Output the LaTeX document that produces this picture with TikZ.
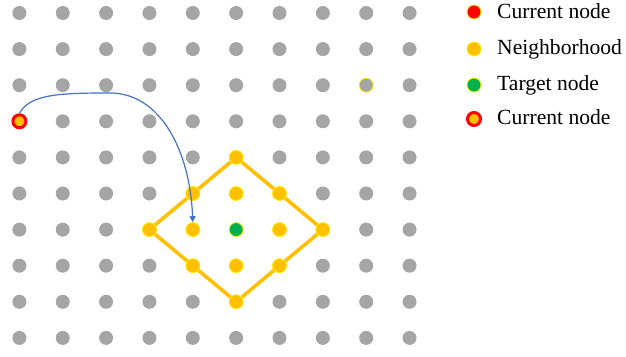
\documentclass[tikz,border=0pt]{standalone}
\usepackage{fontspec}
\setmainfont{Liberation Serif}
\usetikzlibrary{arrows.meta}
\definecolor{dotgray}{HTML}{A5A5A5}
\definecolor{gold}{HTML}{FFC000}
\definecolor{halo}{HTML}{FFEE00}
\definecolor{tgreen}{HTML}{00B050}
\definecolor{cred}{HTML}{FF0000}
\definecolor{arrblue}{HTML}{4472C4}
\tikzset{
  dot/.style={circle,inner sep=0pt,minimum size=14pt,fill=dotgray},
  nbdot/.style={circle,inner sep=0pt,minimum size=14pt,fill=gold,draw=halo,line width=0.8pt},
  tgdot/.style={circle,inner sep=0pt,minimum size=14pt,fill=tgreen,draw=halo,line width=0.8pt},
  reddot/.style={circle,inner sep=0pt,minimum size=14pt,fill=cred,draw=halo,line width=0.8pt},
  curdot/.style={circle,inner sep=0pt,minimum size=13pt,fill=gold,draw=cred,line width=3pt},
  halodot/.style={circle,inner sep=0pt,minimum size=14pt,fill=dotgray,draw=halo,line width=0.8pt},
  diam/.style={draw=gold,line width=3.6pt,line join=round},
  legtext/.style={anchor=base west,inner sep=0pt,font=\fontsize{21.6}{24}\selectfont},
  jump/.style={draw=arrblue,line width=1.2pt,-{Triangle[length=6pt,width=6pt]}}
}
\begin{document}
\begin{tikzpicture}[x=1pt,y=-1pt]
\useasboundingbox (0,0) rectangle (626,356);
% grid coordinates
\foreach \i in {0,...,9}{
  \foreach \j in {0,...,9}{
    \coordinate (p-\i-\j) at ({19.4+43.35*\i},{13+36.1*\j});
  }
}
% diamond
\draw[diam] (p-5-4) -- (p-3-6) -- (p-5-8) -- (p-7-6) -- cycle;
% gray dots
\foreach \i in {0,...,9}{
  \foreach \j in {0,...,9}{
    \pgfmathtruncatemacro{\d}{abs(\i-5)+abs(\j-6)}
    \pgfmathtruncatemacro{\skip}{(\d<=2) || (\i==0 && \j==3) || (\i==8 && \j==2)}
    \ifnum\skip=0
      \node[dot] (n-\i-\j) at (p-\i-\j) {};
    \fi
  }
}
% neighborhood
\foreach \i/\j in {5/4,4/5,5/5,6/5,3/6,4/6,6/6,7/6,4/7,5/7,6/7,5/8}{
  \node[nbdot] (n-\i-\j) at (p-\i-\j) {};
}
\node[tgdot] (target) at (p-5-6) {};
\node[halodot] (n-8-2) at (p-8-2) {};
\node[curdot] (cur) at (p-0-3) {};
% arrow
\draw[jump] (cur.north) .. controls (30,94) and (60,93) .. (110,93) .. controls (160,93) and (190,150) .. (n-4-6.north);
% legend
\node[reddot] (l1) at (474,12) {};
\node[nbdot] (l2) at (474,49) {};
\node[tgdot] (l3) at (474,85) {};
\node[curdot] (l4) at (474,119) {};
\node[legtext] (t1) at (497,18.5) {Current node};
\node[legtext] (t2) at (497,54.5) {Neighborhood};
\node[legtext] (t3) at (497,90.5) {Target node};
\node[legtext] (t4) at (497,124.5) {Current node};
\end{tikzpicture}
\end{document}
